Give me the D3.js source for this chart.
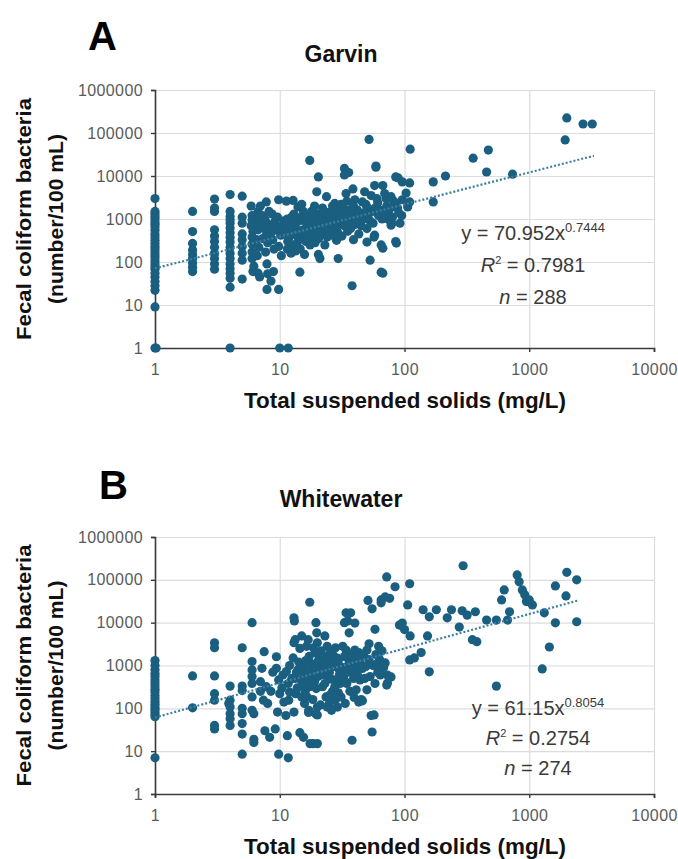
<!DOCTYPE html>
<html>
<head>
<meta charset="utf-8">
<script src="https://cdn.jsdelivr.net/npm/d3@7"></script>
<style>
  body { margin: 0; background: #fff; }
  text { font-family: "Liberation Sans", Arial, sans-serif; }
</style>
</head>
<body>
<div id="chart"></div>
<script>
// ---- data
var xTicks = [1, 10, 100, 1000, 10000];
var yTicks = [1, 10, 100, 1000, 10000, 100000, 1000000];

// Garvin: [TSS mg/L, fecal coliform per 100 mL]
var garvinPoints = [
  [1,3000],[1,1500],[1,1300],[1,1150],[1,1000],[1,850],[1,750],[1,650],[1,550],[1,450],[1,380],[1,320],
  [1,270],[1,230],[1,200],[1,170],[1,145],[1,125],[1,105],[1,90],[1,78],[1,68],[1,55],[1,45],[1,35],[1,28],
  [1,22],[1,9],[1,1],[1.02,1],
  [2,1500],[2,510],[2,270],[2,190],[2,150],[2,120],[2,95],[2,75],[2,60],
  [3,2900],[3,1800],[3,1500],[3,560],[3,400],[3,300],[3,220],[3,160],[3,120],[3,90],[3,68],
  [4,3700],[4,1500],[4,1150],[4,950],[4,800],[4,620],[4,480],[4,370],[4,290],[4,220],[4,160],[4,120],
  [4,90],[4,70],[4,55],[4,42],[4,26],[4,1],
  [5,3400],[5,1100],[5,800],[5,450],[5,330],[5,230],[5,160],[5,110],[5,40],
  [5.9,2000],[6,1200],[6,950],[5.9,700],[6.1,520],[6,380],[6,260],[6,170],[6,120],[6.2,80],[6.1,60],
  [6.7,1500],[6.6,1050],[6.8,750],[6.7,560],[6.5,330],[6.8,220],[6.6,140],[6.7,55],[6.9,45],
  [7.8,2500],[7.6,1000],[7.9,800],[7.5,600],[7.8,420],[8,280],[7.7,170],[7.9,90],[8,53],[7.9,23],
  [7,2000],[7.2,1200],[8.2,1500],[9.2,900],[9.5,550],[8.4,650],[7.3,350],
  [8.7,1300],[8.9,750],[8.6,500],[8.8,330],[9,200],[8.5,36],[8.9,60],
  [9.8,2800],[9.6,1100],[10,650],[10.2,420],[9.8,230],[10.3,140],[9.8,23],[10,1],[11.7,1],
  [11.3,2600],[11.5,1000],[12,800],[11.2,650],[12.2,500],[11.8,360],[12.5,250],[11.5,200],[12.3,160],
  [12.8,2700],[13,1300],[12.6,900],[10.8,900],[11,480],[11.6,300],[12.4,1100],[13.2,750],[13.6,420],
  [14,1900],[13.5,600],[14.2,450],[14.5,350],[13.8,280],[14.6,200],[14.5,58],[14.8,1100],[13.4,180],
  [14.2,900],[15,2200],[15.6,1200],[16,450],[16.6,350],[17.2,700],
  [17.4,23000],[15.5,1500],[16,900],[16.5,700],[15.2,550],[17,420],[16.2,300],[17.5,250],[15.8,150],[16.8,1100],
  [18,1500],[18.2,550],[18.6,320],[19.6,1100],[20.8,800],[21.5,450],
  [20.4,9500],[19.8,4300],[19,2000],[20,1300],[18.5,1000],[19.5,750],[21,600],[18.8,480],[20.5,350],
  [19.2,280],[20.4,150],[21,120],
  [23.7,3300],[22,1800],[24,1400],[22.5,1100],[23,850],[24.5,650],[22,500],[23,250],[24,380],
  [22.5,700],[23.3,1300],[24.2,900],[25,550],[25.5,1100],[26.5,2000],
  [27.6,2300],[26,1500],[28,1200],[27,900],[26.5,650],[29,500],[28.5,320],[29.4,120],[30,1000],[26,420],
  [27.5,750],[28.5,1600],[29.5,700],[31,850],[32,1800],[33.5,1100],[34.5,2600],[36,800],
  [33,15000],[35.7,12000],[33,10600],[34,3900],[31,2200],[35,1600],[32,1300],[34,900],[33,700],[35,520],
  [31.5,400],[38,28],
  [38.6,5000],[40,2800],[42,1600],[38,1200],[44,1000],[40,750],[37,600],[43,450],[39,330],
  [37,1400],[39,2000],[41,900],[43,1300],[45,700],[47,1000],[49,2200],[51,1200],
  [52,71000],[47.9,4300],[46,2500],[50,1900],[48,1400],[53,900],[50,600],[57,380],[50,290],[53,110],
  [54,3500],[55,1500],[61,2400],[64,1600],[66,1000],[71,3000],[75,1600],[80,1100],[82,2600],[88,1800],[95,1200],
  [59,17000],[59,16000],[57.6,6000],[60,3000],[58,1800],[62,1200],[56,800],[57.6,420],[67,55],[67,210],
  [67,6000],[69.4,3900],[78,3300],[72,2000],[74,1000],[78,720],[76,950],[65,250],[65,58],[70,1400],
  [85,9500],[89,9000],[96,7300],[85,2300],[90,1400],[92,800],[85,300],[86,275],[96,2800],[103,4000],
  [111,42000],[110,6900],[110,2500],[106,1900],[79,1900],[79,800],
  [170,7300],[170,2500],[213,10000],[355,26000],[455,12400],[470,40000],[735,11000],
  [1940,69000],[2000,224000],[2700,162000],[3200,162000]
];

// Whitewater
var whitewaterPoints = [
  [1,1300],[1,1000],[1,800],[1,650],[1,550],[1,460],[1,390],[1,330],[1,280],[1,240],[1,200],[1,170],
  [1,145],[1,125],[1,108],[1,95],[1,83],[1,73],[1,64],[1,7],
  [2,570],[2,103],
  [3,3400],[3,2600],[3,570],[3,220],[3,155],[3,40],[3,33],
  [4,330],[4,155],[4,107],[4,75],[4,57],[4,40],[3.9,130],
  [5,2600],[5,330],[5,260],[5,75],[5,44],[5,25],[5,8.5],[5,100],
  [6,10000],[6,1240],[6,790],[6,550],[6,380],[6,185],[6,90],[6.2,75],[6.2,19],[6.2,16],
  [7.5,2100],[7.2,860],[7,420],[7.8,320],[7.4,155],[8,130],[7.6,30],[8.3,21],[8.5,250],[7,250],
  [9.4,860],[9.8,460],[10,220],[9.6,82],[9.2,33],[9.8,8.5],[10.4,300],[10.6,600],[8.8,700],[9.4,1600],
  [11.3,720],[11.7,380],[11.8,155],[11.2,68],[11.5,23],[11.7,7],[12,1000],[12.5,500],[12,240],[10.8,140],
  [13,13000],[13.1,11000],[13.3,4000],[13,3400],[13.2,500],[13.4,220],[13,82],[13.6,700],[13.8,300],
  [12.8,1500],[14,800],[14.5,2500],
  [15,4900],[15.2,950],[14.8,460],[15,185],[14.5,27],[15.5,21],[15.7,650],[14.2,1200],
  [15.5,350],[16.2,1300],[16.4,2800],[15.8,130],
  [17.4,30000],[16.9,4000],[17.2,1630],[17.6,1100],[16.8,720],[17,460],[17.4,320],[16.6,185],[17.1,90],
  [17.5,15],[17,80],[16,250],[18,600],[18.2,1100],[18.6,2600],[19,420],[18.4,160],
  [19.5,10000],[19.8,5800],[20,3400],[19.2,2000],[20.5,1370],[19,860],[20.2,550],[19.6,290],[20,107],
  [19.4,75],[20,70],[18.5,15],[20,15],[21,1800],[20.8,900],[21.5,2200],[21.8,600],[21.2,120],
  [23,4900],[24,2800],[22.5,1630],[23.5,950],[24.5,550],[22,320],[23.5,185],[25,130],[24,107],[26,90],
  [25,700],[22,1200],[22.8,800],[23,380],[24,1400],[25.5,2000],[26,480],[26.5,250],[25,200],
  [28,2600],[29,1480],[27.5,950],[30,600],[28.5,460],[27.6,320],[28,160],[31,185],[29,107],[30,800],[26.5,1100],
  [27,1700],[29.5,1300],[30.5,380],[31.5,900],[32,2800],[33,450],[29.5,230],
  [34,17000],[33,10000],[35,11000],[36,5800],[34,2300],[33,1630],[35,950],[32.5,550],[34.5,380],
  [37,17000],[40,9800],[38,18],[33,700],[36,1200],[35,1900],[35.5,700],[33.5,130],[36.5,250],
  [40,2300],[42,1370],[39,790],[44,460],[41,270],[43,140],[45,160],[38,1700],[42,600],
  [37,1100],[39,500],[40.5,1600],[41,900],[43,2000],[44,1200],[39.5,180],
  [51,33000],[55,21000],[50,2300],[52,1370],[49,950],[53,550],[50,270],[54,68],[55,28],[46,150],
  [46,850],[47,1800],[48,500],[52,3200],[56,1000],
  [58,7000],[62,2800],[60,1100],[64,600],[58,380],[65,34000],[70,40000],[72,117000],[70,1150],[73,600],
  [73,390],[78,540],[72,350],[57,70],[65,29000],[59,1800],[61,700],[63,1400],[66,2200],[68,900],
  [84,69000],[110,81000],[76,37000],[106,26000],[91,8800],[100,6900],[96,9800],[111,4900],[153,4900],
  [120,1500],[136,2000],[110,1350],[158,710],[141,20000],[180,20000],[158,13700],
  [238,20000],[220,13000],[290,19000],[318,15000],[370,18000],[295,213000],[275,7900],[350,4000],
  [380,3600],[455,11500],[545,11500],[670,11500],[695,18000],[600,34000],[630,58000],[545,330],
  [800,130000],[830,90000],[880,58000],[920,45000],[950,31000],[1060,26000],[1000,34000],[1320,17000],
  [1270,830],[1450,2700],[1620,72000],[1970,42000],[2000,150000],[2400,100000],[1620,9900],[2400,10500]
];

// power fits y = a * x^b, drawn from x=1 to the last sample
var garvinFit = {a: 70.952, b: 0.7444, aText: "70.952", bText: "0.7444", r2: "0.7981", n: 288, xMax: 3300};
var whitewaterFit = {a: 61.15, b: 0.8054, aText: "61.15", bText: "0.8054", r2: "0.2754", n: 274, xMax: 2450};

// ---- layout
var W = 678, H = 859;
var plotLeft = 155, plotRight = 654;
var dotColor = "#1a5f80";

var svg = d3.select("#chart").append("svg")
    .attr("width", W)
    .attr("height", H);

var xScale = d3.scaleLog().domain([1, 10000]).range([plotLeft, plotRight]);

function panel(opts) {
  var y = d3.scaleLog().domain([1, 1000000]).range([opts.bottom, opts.top]);
  var g = svg.append("g");

  // grid
  g.append("g")
    .attr("transform", "translate(0," + opts.bottom + ")")
    .call(d3.axisBottom(xScale).tickValues(xTicks).tickSize(-(opts.bottom - opts.top)).tickFormat(""))
    .call(s => s.select(".domain").remove())
    .call(s => s.selectAll("line").attr("stroke", "#dcdcdc").attr("stroke-width", 1.2));
  g.append("g")
    .attr("transform", "translate(" + plotLeft + ",0)")
    .call(d3.axisLeft(y).tickValues(yTicks).tickSize(-(plotRight - plotLeft)).tickFormat(""))
    .call(s => s.select(".domain").remove())
    .call(s => s.selectAll("line").attr("stroke", "#dcdcdc").attr("stroke-width", 1.2));

  // axes
  var xa = g.append("g")
    .attr("transform", "translate(0," + opts.bottom + ")")
    .call(d3.axisBottom(xScale).tickValues(xTicks).tickSize(4).tickPadding(12).tickFormat(d3.format("d")));
  var ya = g.append("g")
    .attr("transform", "translate(" + plotLeft + ",0)")
    .call(d3.axisLeft(y).tickValues(yTicks).tickSize(4).tickPadding(8).tickFormat(d3.format("d")));
  [xa, ya].forEach(function(a) {
    a.select(".domain").attr("stroke", "#3a3a3a").attr("stroke-width", 1.6);
    a.selectAll(".tick line").attr("stroke", "#3a3a3a").attr("stroke-width", 1.4);
    a.selectAll(".tick text")
      .attr("fill", "#5a5a5a")
      .style("font-size", "16px")
      .style("letter-spacing", "0.4px")
      .style("font-family", "'Liberation Sans', Arial, sans-serif");
  });

  // points
  g.append("g").selectAll("circle")
    .data(opts.points)
    .join("circle")
      .attr("cx", d => xScale(d[0]))
      .attr("cy", d => y(d[1]))
      .attr("r", 4.6)
      .attr("fill", dotColor);

  // trendline
  var fit = opts.fit;
  var line = d3.line()
      .x(d => xScale(d))
      .y(d => y(fit.a * Math.pow(d, fit.b)));
  g.append("path")
    .datum([1, fit.xMax])
    .attr("d", line)
    .attr("fill", "none")
    .attr("stroke", "#3d7fa0")
    .attr("stroke-width", 2.2)
    .attr("stroke-dasharray", "2,2");

  // panel letter and title
  g.append("text")
    .attr("x", opts.letterX).attr("y", opts.letterY)
    .style("font-size", "40px").style("font-weight", "bold")
    .attr("fill", "#000")
    .text(opts.letter);
  g.append("text")
    .attr("x", 341).attr("y", opts.titleY)
    .attr("text-anchor", "middle")
    .style("font-size", "23px").style("font-weight", "bold")
    .attr("fill", "#111")
    .text(opts.title);

  // axis titles
  g.append("text")
    .attr("x", 405).attr("y", opts.bottom + 60)
    .attr("text-anchor", "middle")
    .attr("textLength", 322).attr("lengthAdjust", "spacingAndGlyphs")
    .style("font-size", "22px").style("font-weight", "bold")
    .attr("fill", "#111")
    .text("Total suspended solids (mg/L)");
  var cy = (opts.top + opts.bottom) / 2;
  g.append("text")
    .attr("transform", "translate(31," + cy + ") rotate(-90)")
    .attr("text-anchor", "middle")
    .attr("textLength", 242).attr("lengthAdjust", "spacingAndGlyphs")
    .style("font-size", "21px").style("font-weight", "bold")
    .attr("fill", "#111")
    .text("Fecal coliform bacteria");
  g.append("text")
    .attr("transform", "translate(63," + cy + ") rotate(-90)")
    .attr("text-anchor", "middle")
    .attr("textLength", 170).attr("lengthAdjust", "spacingAndGlyphs")
    .style("font-size", "21px").style("font-weight", "bold")
    .attr("fill", "#111")
    .text("(number/100 mL)");

  // equation
  var ex = opts.eqX, ey = opts.eqY;
  var t1 = g.append("text").attr("x", ex).attr("y", ey).attr("text-anchor", "middle")
    .style("font-size", "20px").attr("fill", "#3a3a3a");
  t1.append("tspan").text("y = " + fit.aText + "x");
  t1.append("tspan").attr("dy", -8).style("font-size", "13px").text(fit.bText);

  var t2 = g.append("text").attr("x", ex).attr("y", ey + opts.lineGap).attr("text-anchor", "middle")
    .style("font-size", "20px").attr("fill", "#3a3a3a");
  t2.append("tspan").style("font-style", "italic").text("R");
  t2.append("tspan").attr("dy", -8).style("font-size", "11px").text("2");
  t2.append("tspan").attr("dy", 8).text(" = " + fit.r2);

  var t3 = g.append("text").attr("x", ex).attr("y", ey + 2 * opts.lineGap).attr("text-anchor", "middle")
    .style("font-size", "20px").attr("fill", "#3a3a3a");
  t3.append("tspan").style("font-style", "italic").text("n");
  t3.append("tspan").text(" = " + fit.n);
}

panel({points: garvinPoints, fit: garvinFit, top: 90, bottom: 348,
       letter: "A", letterX: 88, letterY: 50, title: "Garvin", titleY: 62,
       eqX: 533, eqY: 240, lineGap: 32});
panel({points: whitewaterPoints, fit: whitewaterFit, top: 537, bottom: 794,
       letter: "B", letterX: 99, letterY: 499, title: "Whitewater", titleY: 507,
       eqX: 538, eqY: 715, lineGap: 30});
</script>
</body>
</html>
